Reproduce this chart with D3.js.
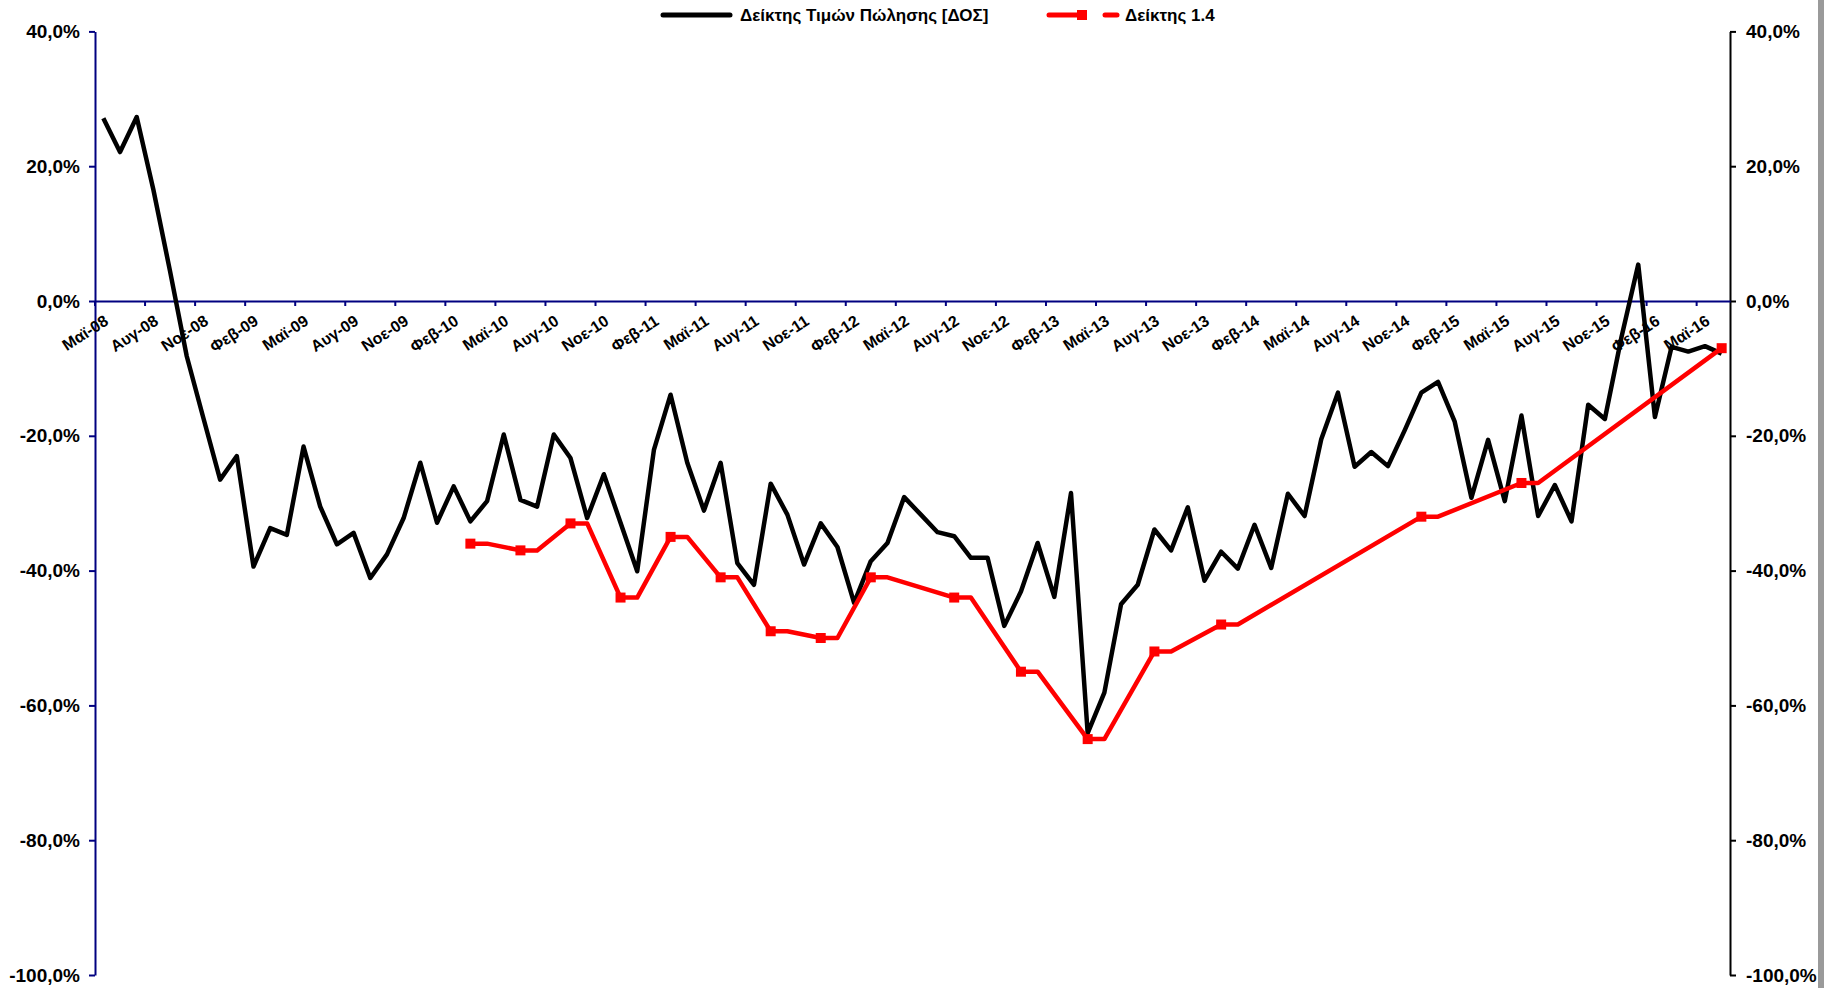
<!DOCTYPE html>
<html>
<head>
<meta charset="utf-8">
<script src="https://cdn.jsdelivr.net/npm/d3@7"></script>
<style>
  body { margin: 0; background: #fff; }
  svg text { font-family: "Liberation Sans", Arial, sans-serif; font-weight: bold; }
</style>
</head>
<body>
<div id="chart"></div>
<script>
// monthly categories, Μαϊ-08 .. Ιουν-16
const months = [
  "Μαϊ-08","Ιουν-08","Ιουλ-08","Αυγ-08","Σεπ-08","Οκτ-08","Νοε-08","Δεκ-08",
  "Ιαν-09","Φεβ-09","Μαρ-09","Απρ-09","Μαϊ-09","Ιουν-09","Ιουλ-09","Αυγ-09","Σεπ-09","Οκτ-09","Νοε-09","Δεκ-09",
  "Ιαν-10","Φεβ-10","Μαρ-10","Απρ-10","Μαϊ-10","Ιουν-10","Ιουλ-10","Αυγ-10","Σεπ-10","Οκτ-10","Νοε-10","Δεκ-10",
  "Ιαν-11","Φεβ-11","Μαρ-11","Απρ-11","Μαϊ-11","Ιουν-11","Ιουλ-11","Αυγ-11","Σεπ-11","Οκτ-11","Νοε-11","Δεκ-11",
  "Ιαν-12","Φεβ-12","Μαρ-12","Απρ-12","Μαϊ-12","Ιουν-12","Ιουλ-12","Αυγ-12","Σεπ-12","Οκτ-12","Νοε-12","Δεκ-12",
  "Ιαν-13","Φεβ-13","Μαρ-13","Απρ-13","Μαϊ-13","Ιουν-13","Ιουλ-13","Αυγ-13","Σεπ-13","Οκτ-13","Νοε-13","Δεκ-13",
  "Ιαν-14","Φεβ-14","Μαρ-14","Απρ-14","Μαϊ-14","Ιουν-14","Ιουλ-14","Αυγ-14","Σεπ-14","Οκτ-14","Νοε-14","Δεκ-14",
  "Ιαν-15","Φεβ-15","Μαρ-15","Απρ-15","Μαϊ-15","Ιουν-15","Ιουλ-15","Αυγ-15","Σεπ-15","Οκτ-15","Νοε-15","Δεκ-15",
  "Ιαν-16","Φεβ-16","Μαρ-16","Απρ-16","Μαϊ-16","Ιουν-16"
];

// Δείκτης Τιμών Πώλησης [ΔΟΣ], % (one per month)
const dosValues = [
  27.1, 22.1, 27.3, 16.5, 4.4, -8.2, -17.4, -26.5,
  -23.0, -39.4, -33.7, -34.7, -21.6, -30.5, -36.1, -34.4, -41.1, -37.6, -32.2, -24.0,
  -32.9, -27.5, -32.7, -29.7, -19.8, -29.5, -30.5, -19.8, -23.3, -32.2, -25.7, -32.9,
  -40.1, -22.1, -13.9, -24.0, -31.1, -24.0, -38.9, -42.1, -27.1, -31.7, -39.1, -33.0,
  -36.5, -44.8, -38.6, -35.9, -29.1, -31.7, -34.3, -34.9, -38.1, -38.1, -48.2, -43.1,
  -35.9, -43.9, -28.5, -64.1, -58.1, -45.0, -42.1, -33.9, -37.0, -30.6, -41.5, -37.2,
  -39.7, -33.2, -39.6, -28.6, -31.9, -20.5, -13.6, -24.6, -22.4, -24.5, -19.2, -13.6,
  -12.0, -17.9, -29.2, -20.6, -29.7, -17.0, -31.9, -27.3, -32.7, -15.4, -17.5, -5.3,
  5.4, -17.2, -6.8, -7.5, -6.7, -7.8
];

// Δείκτης 1.4, % (only some months)
const idxMonths = [
  "Μαρ-10","Απρ-10","Ιουν-10","Ιουλ-10","Σεπ-10","Οκτ-10","Δεκ-10","Ιαν-11",
  "Μαρ-11","Απρ-11","Ιουν-11","Ιουλ-11","Σεπ-11","Οκτ-11","Δεκ-11","Ιαν-12",
  "Μαρ-12","Απρ-12","Αυγ-12","Σεπ-12","Δεκ-12","Ιαν-13","Απρ-13","Μαϊ-13",
  "Αυγ-13","Σεπ-13","Δεκ-13","Ιαν-14","Δεκ-14","Ιαν-15","Ιουν-15","Ιουλ-15","Ιουν-16"
];
const idxValues = [
  -36, -36, -37, -37, -33, -33, -44, -44,
  -35, -35, -41, -41, -49, -49, -50, -50,
  -41, -41, -44, -44, -55, -55, -65, -65,
  -52, -52, -48, -48, -32, -32, -27, -27, -7
];
const idxMarker = [
  1,0,1,0,1,0,1,0,
  1,0,1,0,1,0,1,0,
  1,0,1,0,1,0,1,0,
  1,0,1,0,1,0,1,0,1
];

const yTicks = [40, 20, 0, -20, -40, -60, -80, -100];
const seriesNames = ["Δείκτης Τιμών Πώλησης [ΔΟΣ]", "Δείκτης 1.4"];

const W = 1824, H = 988;
const plot = { left: 95, right: 1730, top: 31.4, bottom: 975 };

const svg = d3.select("#chart").append("svg")
    .attr("width", W)
    .attr("height", H);

svg.append("rect").attr("width", W).attr("height", H).attr("fill", "#fff");
svg.append("rect").attr("x", 1818).attr("width", 6).attr("height", H).attr("fill", "#9a9a9a");

const x = d3.scaleBand().domain(months).range([plot.left, plot.right]).paddingInner(0).paddingOuter(0);
const bw = x.bandwidth();
const cx = d => x(d) + bw / 2;
const y = d3.scaleLinear().domain([-100, 40]).range([plot.bottom, plot.top]);

const fmt = d => d.toFixed(1).replace(".", ",") + "%";

// left axis
const gl = svg.append("g")
    .attr("transform", `translate(${plot.left},0)`)
    .call(d3.axisLeft(y).tickValues(yTicks).tickFormat(fmt).tickSize(6).tickSizeOuter(0).tickPadding(9));
gl.select(".domain").attr("stroke", "#000080").attr("stroke-width", 2);
gl.selectAll(".tick line").attr("stroke", "#000080").attr("stroke-width", 2);
gl.selectAll(".tick text").attr("fill", "#000").style("font-size", "19px");

// right axis
const gr = svg.append("g")
    .attr("transform", `translate(${plot.right},0)`)
    .call(d3.axisRight(y).tickValues(yTicks).tickFormat(fmt).tickSize(6).tickSizeOuter(0).tickPadding(10));
gr.select(".domain").attr("stroke", "#000").attr("stroke-width", 2);
gr.selectAll(".tick line").attr("stroke", "#000").attr("stroke-width", 2);
gr.selectAll(".tick text").attr("fill", "#000").style("font-size", "19px");

// category axis on the zero line
const gx = svg.append("g")
    .attr("transform", `translate(0,${y(0)})`)
    .call(d3.axisBottom(x).tickValues(months.filter((d, i) => i % 3 === 0)).tickSize(5).tickSizeOuter(0));
gx.select(".domain").attr("stroke", "#000080").attr("stroke-width", 2);
gx.selectAll(".tick line").attr("stroke", "#000080").attr("stroke-width", 2)
    .attr("x1", -bw / 2).attr("x2", -bw / 2);
gx.selectAll(".tick text")
    .attr("fill", "#000")
    .style("font-size", "16px")
    .attr("text-anchor", "end")
    .attr("y", 0).attr("dy", "0.35em")
    .attr("transform", "translate(3,18) rotate(-33)");

// series
const line = d3.line().x(d => cx(d[0])).y(d => y(d[1]));

svg.append("path")
    .datum(months.map((m, i) => [m, dosValues[i]]))
    .attr("fill", "none")
    .attr("stroke", "#000")
    .attr("stroke-width", 4.5)
    .attr("stroke-linejoin", "round")
    .attr("d", line);

const idxData = idxMonths.map((m, i) => [m, idxValues[i], idxMarker[i]]);
svg.append("path")
    .datum(idxData)
    .attr("fill", "none")
    .attr("stroke", "#ff0000")
    .attr("stroke-width", 4.5)
    .attr("stroke-linejoin", "round")
    .attr("d", line);

svg.selectAll("rect.mk")
    .data(idxData.filter(d => d[2]))
    .join("rect")
    .attr("class", "mk")
    .attr("x", d => cx(d[0]) - 5)
    .attr("y", d => y(d[1]) - 5)
    .attr("width", 10)
    .attr("height", 10)
    .attr("fill", "#ff0000");

// legend
const lg = svg.append("g");
lg.append("line").attr("x1", 663).attr("x2", 730).attr("y1", 15).attr("y2", 15)
    .attr("stroke", "#000").attr("stroke-width", 5).attr("stroke-linecap", "round");
lg.append("text").attr("x", 740).attr("y", 21).style("font-size", "17px").text(seriesNames[0]);
lg.append("line").attr("x1", 1049).attr("x2", 1082).attr("y1", 15).attr("y2", 15)
    .attr("stroke", "#ff0000").attr("stroke-width", 5).attr("stroke-linecap", "round");
lg.append("rect").attr("x", 1077).attr("y", 10).attr("width", 10).attr("height", 10).attr("fill", "#ff0000");
lg.append("line").attr("x1", 1105).attr("x2", 1117).attr("y1", 15).attr("y2", 15)
    .attr("stroke", "#ff0000").attr("stroke-width", 5).attr("stroke-linecap", "round");
lg.append("text").attr("x", 1125).attr("y", 21).style("font-size", "17px").text(seriesNames[1]);
</script>
</body>
</html>
